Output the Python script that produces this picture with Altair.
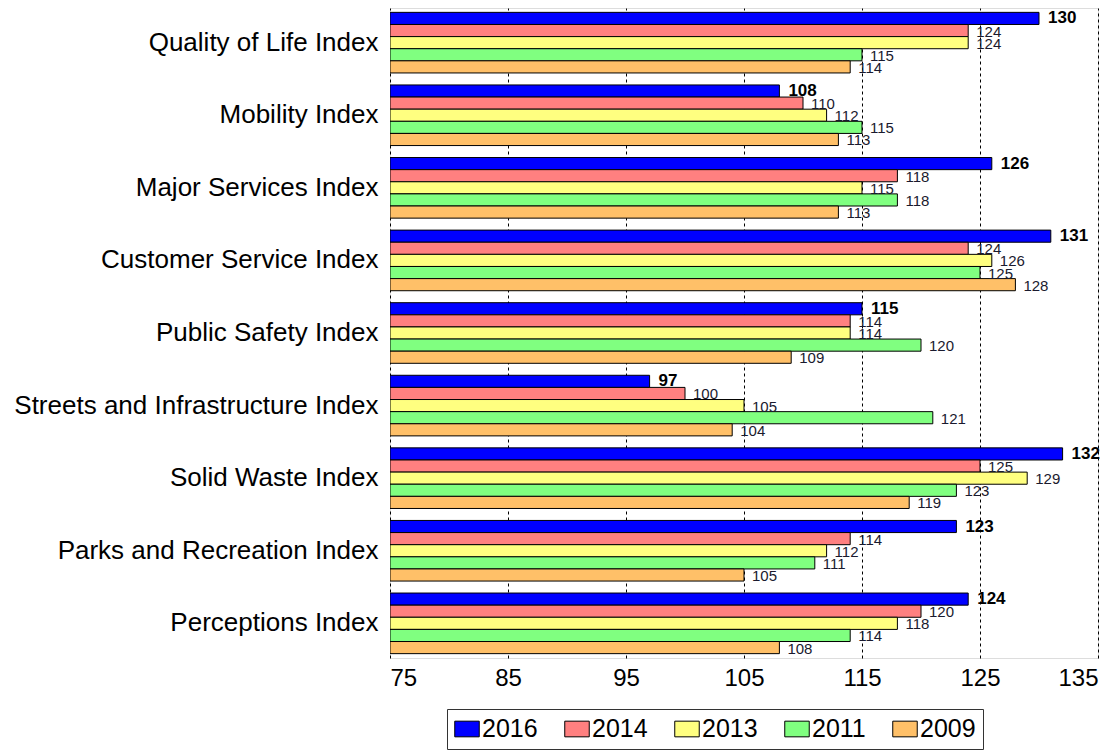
import altair as alt
import pandas as pd

categories = ["Quality of Life Index", "Mobility Index", "Major Services Index",
              "Customer Service Index", "Public Safety Index",
              "Streets and Infrastructure Index", "Solid Waste Index",
              "Parks and Recreation Index", "Perceptions Index"]
years = ["2016", "2014", "2013", "2011", "2009"]
colors = ["#0000FF", "#FF8080", "#FFFF80", "#80FF80", "#FFC068"]

v2016 = [130, 108, 126, 131, 115, 97, 132, 123, 124]
v2014 = [124, 110, 118, 124, 114, 100, 125, 114, 120]
v2013 = [124, 112, 115, 126, 114, 105, 129, 112, 118]
v2011 = [115, 115, 118, 125, 120, 121, 123, 111, 114]
v2009 = [114, 113, 113, 128, 109, 104, 119, 105, 108]
x_ticks = [75, 85, 95, 105, 115, 125, 135]

series = dict(zip(years, [v2016, v2014, v2013, v2011, v2009]))
rows = []
for y in years:
    for c, v in zip(categories, series[y]):
        rows.append({"category": c, "year": y, "value": v})
df = pd.DataFrame(rows)

FONT = "Liberation Sans"

y_enc = alt.Y("category:N", sort=categories, title=None,
              scale=alt.Scale(paddingInner=0.165, paddingOuter=0.06),
              axis=alt.Axis(labelFontSize=26, labelFont=FONT, labelColor="black",
                            labelPadding=12, ticks=False, domain=False,
                            labelLimit=420, minExtent=377, maxExtent=377))
x_enc = alt.X("value:Q", title=None,
              scale=alt.Scale(domain=[75, 135], nice=False, zero=False),
              axis=alt.Axis(values=x_ticks, labelFontSize=24, labelFont=FONT,
                            labelColor="black", labelPadding=8, ticks=False,
                            domain=False, grid=True, gridColor="black",
                            gridDash=[3, 3], gridWidth=1, gridOpacity=1))
yoff = alt.YOffset("year:N", sort=years)

base = alt.Chart(df)

rect_symbol = "M-1,-0.64L1,-0.64L1,0.64L-1,0.64Z"

bars = base.mark_bar(stroke="black", strokeWidth=1, clip=True).encode(
    y=y_enc,
    x=x_enc,
    x2=alt.datum(75),
    yOffset=yoff,
    color=alt.Color("year:N", sort=years,
                    scale=alt.Scale(domain=years, range=colors),
                    legend=alt.Legend(title=None, orient="none", legendX=57,
                                      legendY=701, direction="horizontal",
                                      symbolType=rect_symbol, symbolSize=600,
                                      symbolStrokeColor="black",
                                      symbolStrokeWidth=1, labelFontSize=25,
                                      labelFont=FONT, labelColor="black",
                                      columnPadding=24, labelOffset=2,
                                      strokeColor="#333333", padding=7,
                                      fillColor="white")),
)

lab16 = base.transform_filter(alt.datum.year == "2016").mark_text(
    align="left", baseline="middle", dx=9, fontSize=17, fontWeight="bold",
    font=FONT, color="black").encode(
    y=y_enc, x=x_enc, yOffset=yoff, text=alt.Text("value:Q"))

labOther = base.transform_filter(alt.datum.year != "2016").mark_text(
    align="left", baseline="middle", dx=8, dy=1, fontSize=15,
    font=FONT, color="#1a1a2e").encode(
    y=y_enc, x=x_enc, yOffset=yoff, text=alt.Text("value:Q"))

chart = alt.layer(bars, lab16, labOther).properties(
    width=708, height=650,
    padding={"left": 5, "top": 0, "right": 5, "bottom": 5},
).configure_view(stroke="#555555", strokeWidth=2).configure(background="white")

chart.save("out.html", embed_options={"renderer": "svg", "actions": False})
